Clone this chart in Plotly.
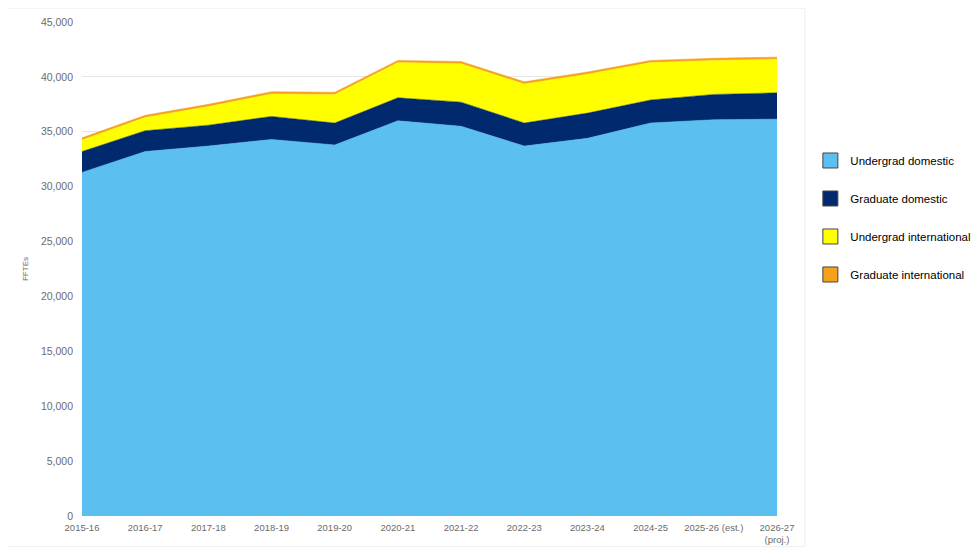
import plotly.graph_objects as go

years = ["2015-16", "2016-17", "2017-18", "2018-19", "2019-20", "2020-21",
         "2021-22", "2022-23", "2023-24", "2024-25", "2025-26 (est.)", "2026-27<br>(proj.)"]

undergrad_domestic = [31300, 33200, 33700, 34300, 33800, 36000, 35500, 33700, 34400, 35800, 36100, 36150]
graduate_domestic = [1900, 1900, 1900, 2100, 2000, 2100, 2200, 2100, 2300, 2100, 2300, 2400]
undergrad_international = [1050, 1200, 1700, 2050, 2600, 3200, 3500, 3550, 3550, 3400, 3100, 3050]
graduate_international = [200, 200, 200, 200, 200, 200, 200, 200, 200, 200, 200, 200]

series = [
    ("Undergrad domestic", undergrad_domestic, "#5BC0F0"),
    ("Graduate domestic", graduate_domestic, "#012A6E"),
    ("Undergrad international", undergrad_international, "#FFFF00"),
    ("Graduate international", graduate_international, "#F5A11C"),
]

y_ticks = list(range(0, 45001, 5000))

fig = go.Figure()
for name, vals, col in series:
    fig.add_trace(go.Scatter(
        x=years, y=vals, name=name, stackgroup="one", mode="lines",
        line=dict(width=0.5, color=col), fillcolor=col, showlegend=False,
        hoverinfo="x+y+name"))

for name, vals, col in series:
    fig.add_trace(go.Scatter(
        x=[None], y=[None], name=name, mode="markers",
        marker=dict(symbol="square", size=15, color=col,
                    line=dict(color="#444444", width=1)),
        legendgroup=name, showlegend=True))

fig.update_layout(
    width=971, height=540,
    margin=dict(l=74, r=202, t=14, b=32, autoexpand=False),
    paper_bgcolor="white", plot_bgcolor="white",
    font=dict(family="Liberation Sans", color="#000000"),
    legend=dict(x=1.048, y=0.749, xanchor="left", yanchor="top",
                traceorder="grouped", tracegroupgap=19,
                font=dict(size=11.5, family="Liberation Sans", color="#000000"),
                itemwidth=30, bgcolor="rgba(0,0,0,0)"),
    xaxis=dict(type="category", range=[0, 11], showgrid=False, zeroline=False,
               showline=False, ticks="", automargin=False, ticklabelstandoff=4,
               tickfont=dict(size=9.5, color="#6b6b6b", family="Liberation Sans")),
    yaxis=dict(range=[0, 45000], tickvals=y_ticks, tickformat=",",
               showgrid=True, gridcolor="#E6E6E6", gridwidth=1, zeroline=False,
               showline=False, ticks="", ticklabelstandoff=8, automargin=False,
               tickfont=dict(size=10.5, color="#6b6b6b", family="Liberation Sans"),
               title=dict(text="FFTEs", font=dict(size=8, color="#6b6b6b"), standoff=11)),
    shapes=[dict(type="rect", xref="paper", yref="paper",
                 x0=-0.108, x1=1.040, y0=-0.062, y1=1.028,
                 line=dict(color="#EEEEEE", width=1), layer="below")],
)

fig.write_html("out.html")
